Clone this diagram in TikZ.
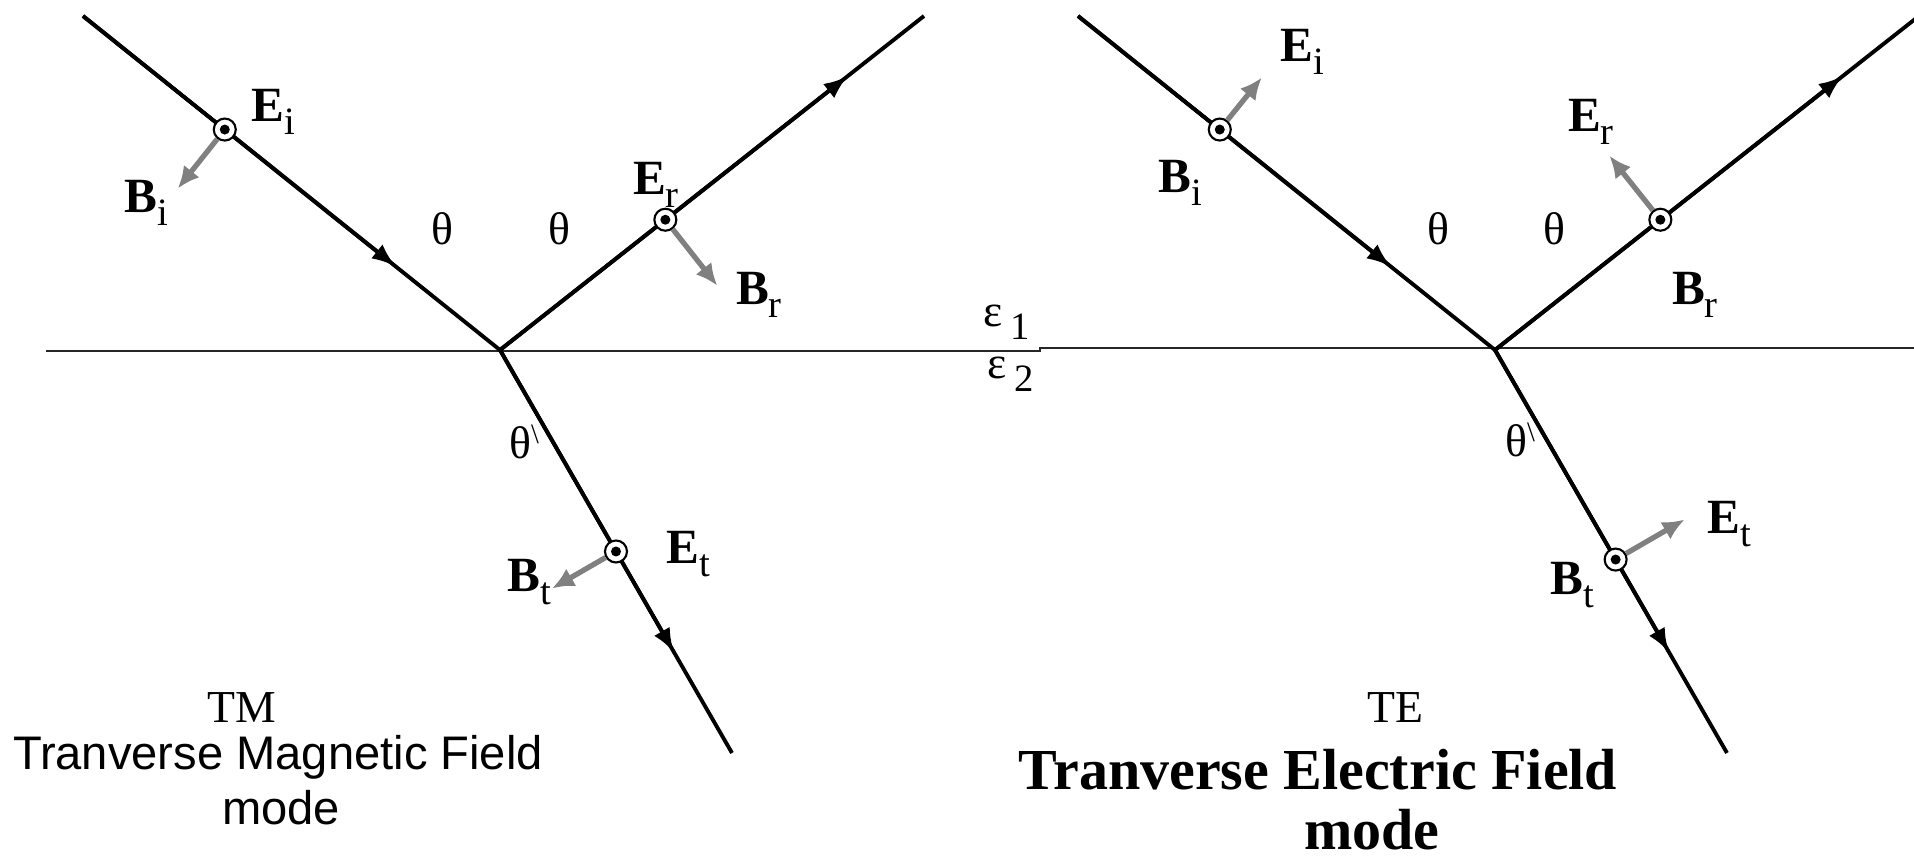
\documentclass[tikz,border=0pt]{standalone}
\usepackage{fontspec}
\setmainfont{Liberation Serif}
\newfontfamily\subfont{Liberation Sans}
\usetikzlibrary{arrows.meta,positioning,calc}
\definecolor{fieldgray}{RGB}{128,128,128}
\newcommand\fieldlbl[2]{\textbf{#1}\raisebox{-0.55ex}{\fontsize{11}{11}\selectfont #2}}
\newcommand\thetat{θ\raisebox{0.7ex}{\fontsize{8}{8}\selectfont\textbackslash}}
\newcommand\epslbl[1]{ε\,\raisebox{-0.6ex}{\fontsize{11}{11}\selectfont #1}}

\begin{document}
\begin{tikzpicture}[
  x=0.01cm, y=-0.01cm,
  ray/.style={line width=1.1pt, black},
  rayarr/.style={ray, -{Latex[length=2.4mm,width=1.8mm]}},
  fld/.style={-{Latex[length=2.2mm,width=2mm]}, line width=1.5pt, fieldgray},
  dotc/.style={circle, draw, fill=white, line width=0.6pt, minimum size=2.2mm, inner sep=0pt,
    path picture={\fill[black] (path picture bounding box.center) circle (0.5mm);}},
  lbl/.style={font=\fontsize{14}{16}\selectfont, inner sep=1pt},
  ang/.style={font=\fontsize{13}{15}\selectfont, inner sep=1pt},
  title/.style={font=\fontsize{13}{15}\selectfont, inner sep=1pt},
  subs/.style={font=\subfont\fontsize{13.4}{16}\selectfont, inner sep=1pt},
  subb/.style={font=\fontsize{16.5}{19}\selectfont\bfseries, inner sep=1pt}
]
  \useasboundingbox (0,0) rectangle (1914,861);

  % interface
  \coordinate (L0) at (46,351);
  \coordinate (L1) at (1040,351);
  \coordinate (L2) at (1040,348);
  \coordinate (L3) at (1914,348);
  \draw[line width=0.6pt, black!85] (L0) -- (L1) -- (L2) -- (L3);
  \node[ang] (eps1) at (1007,322) {\epslbl{1}};
  \node[ang] (eps2) at (1011,374) {\epslbl{2}};

  % TM
  \coordinate (A1) at (83,16);
  \coordinate (O1) at (500,350);
  \coordinate (R1) at (924,16);
  \coordinate (T1) at (732,753);
  \draw[ray] (A1) -- (O1) -- (R1);
  \draw[ray] (O1) -- (T1);
  \draw[rayarr] (A1) -- ($(A1)!0.75!(O1)$);
  \draw[rayarr] (O1) -- ($(O1)!0.82!(R1)$);
  \draw[rayarr] (O1) -- ($(O1)!0.75!(T1)$);

  \node[dotc] (ei) at ($(A1)!0.34!(O1)$) {};
  \node[dotc] (er) at ($(O1)!0.39!(R1)$) {};
  \node[dotc] (et) at ($(O1)!0.5!(T1)$) {};
  \coordinate (bitip) at ($(ei)+(-47,59)$);
  \coordinate (brtip) at ($(er)+(52,66)$);
  \coordinate (bttip) at ($(et)+(-64,37)$);
  \draw[fld] (ei) -- (bitip);
  \draw[fld] (er) -- (brtip);
  \draw[fld] (et) -- (bttip);

  \node[lbl] (Ei) at (273,112) {\fieldlbl{E}{i}};
  \node[lbl] (Bi) at (146,203) {\fieldlbl{B}{i}};
  \node[lbl] (Er) at (656,185) {\fieldlbl{E}{r}};
  \node[lbl] (Br) at (759,295) {\fieldlbl{B}{r}};
  \node[lbl] (Et) at (688,554) {\fieldlbl{E}{t}};
  \node[lbl] (Bt) at (529,582) {\fieldlbl{B}{t}};
  \node[ang] (th1) at (442,229) {θ};
  \node[ang] (th2) at (559,229) {θ};
  \node[ang] (th3) at (524,442) {\thetat};

  \node[title] (tm) at (242,708) {TM};
  \node[subs] (tmsub) at (278,757) {Tranverse Magnetic Field};
  \node[subs] (tmmode) at (281,808) {mode};

  % TE
  \coordinate (A2) at (1078,16);
  \coordinate (O2) at (1495,350);
  \coordinate (R2) at (1919,16);
  \coordinate (T2) at (1727,753);
  \draw[ray] (A2) -- (O2) -- (R2);
  \draw[ray] (O2) -- (T2);
  \draw[rayarr] (A2) -- ($(A2)!0.75!(O2)$);
  \draw[rayarr] (O2) -- ($(O2)!0.82!(R2)$);
  \draw[rayarr] (O2) -- ($(O2)!0.75!(T2)$);

  \node[dotc] (bi) at ($(A2)!0.34!(O2)$) {};
  \node[dotc] (br) at ($(O2)!0.39!(R2)$) {};
  \node[dotc] (bt) at ($(O2)!0.52!(T2)$) {};
  \coordinate (eitip) at ($(bi)+(42,-52)$);
  \coordinate (ertip) at ($(br)+(-51,-64)$);
  \coordinate (ettip) at ($(bt)+(69,-40)$);
  \draw[fld] (bi) -- (eitip);
  \draw[fld] (br) -- (ertip);
  \draw[fld] (bt) -- (ettip);

  \node[lbl] (Ei2) at (1302,52) {\fieldlbl{E}{i}};
  \node[lbl] (Bi2) at (1180,183) {\fieldlbl{B}{i}};
  \node[lbl] (Er2) at (1591,122) {\fieldlbl{E}{r}};
  \node[lbl] (Br2) at (1695,295) {\fieldlbl{B}{r}};
  \node[lbl] (Et2) at (1729,524) {\fieldlbl{E}{t}};
  \node[lbl] (Bt2) at (1572,585) {\fieldlbl{B}{t}};
  \node[ang] (th4) at (1438,229) {θ};
  \node[ang] (th5) at (1554,229) {θ};
  \node[ang] (th6) at (1520,440) {\thetat};

  \node[title] (te) at (1395,708) {TE};
  \node[subb] (tesub) at (1318,770) {Tranverse Electric Field};
  \node[subb] (temode) at (1372,830) {mode};
\end{tikzpicture}
\end{document}
